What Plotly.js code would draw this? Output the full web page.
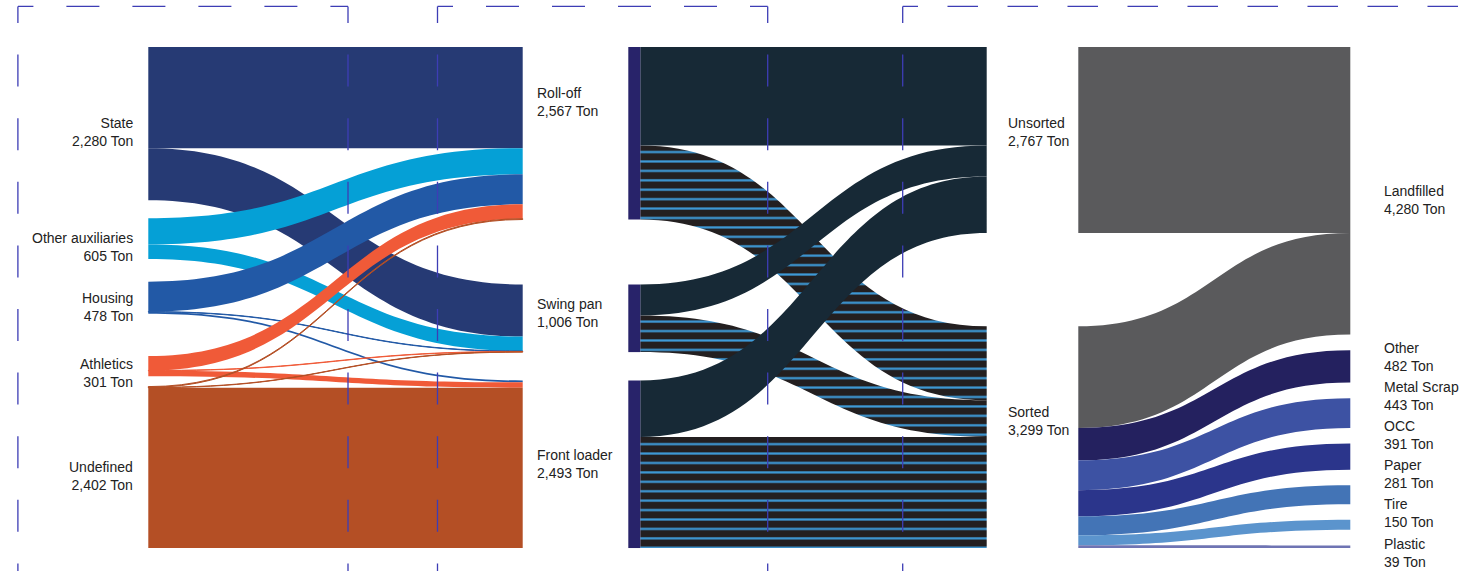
<!DOCTYPE html>
<html>
<head>
<meta charset="utf-8">
<script src="https://cdn.plot.ly/plotly-3.0.1.min.js"></script>
<style>
  html, body { margin: 0; padding: 0; background: #ffffff; }
  #chart { width: 1483px; height: 571px; }
</style>
</head>
<body>
<div id="chart"></div>
<script>
// ================= DATA =================
const sourceLabels = ['State', 'Other auxiliaries', 'Housing', 'Athletics', 'Undefined'];
const sourceTotals = [2280, 605, 478, 301, 2402];

const containerLabels = ['Roll-off', 'Swing pan', 'Front loader'];
const containerTotals = [2567, 1006, 2493];

const sortLabels = ['Unsorted', 'Sorted'];
const sortTotals = [2767, 3299];

const outcomeLabels = ['Landfilled', 'Other', 'Metal Scrap', 'OCC', 'Paper', 'Tire', 'Plastic'];
const outcomeTotals = [4280, 482, 443, 391, 281, 150, 39];

// Source -> container flows (Ton)
const flow1Source = [0, 0, 1, 1, 2, 2, 2, 3, 3, 3, 4, 4, 4];
const flow1Target = [0, 1, 0, 1, 0, 1, 2, 0, 1, 2, 0, 1, 2];
const flow1Value  = [1505, 775, 390, 215, 445, 6, 27, 215, 5, 81, 12, 5, 2385];

// Container -> sorting flows (Ton); target 0 = Unsorted, 1 = Sorted
const flow2Source = [0, 1, 2, 0, 1, 2];
const flow2Target = [1, 1, 1, 0, 0, 0];
const flow2Value  = [1100, 546, 1653, 1467, 460, 840];

// Sorting -> outcome flows (Ton)
const flow3Source = [0, 1, 1, 1, 1, 1, 1, 1];
const flow3Target = [0, 0, 1, 2, 3, 4, 5, 6];
const flow3Value  = [2767, 1513, 482, 443, 391, 281, 150, 39];

// ================= STYLE / LAYOUT =================
const W = 1483, H = 571;
const plotTop = 47, plotBottom = 548;
const plotH = plotBottom - plotTop;
const ky = 0.0672;               // px per ton
const nodeThick = 12;
const domainsPx = [[136.3, 534.7], [628.3, 998.7], [1066.3, 1362.3]];

const sourceColors = ['#263a74', '#05a0d6', '#2259a6', '#f05a38', '#b44f25'];
const unsortedColor = '#172936';
const stripePlaceholder = 'rgb(35, 31, 33)';
const stripeDark = '#231f20', stripeBlue = '#3e9bd9';
const stripePeriod = 9.422, stripeY = 0.3, stripeH = 2.2;
const sortNodeColor = '#28236a';
const outcomeColors = ['#5a5a5c', '#24215f', '#3d52a3', '#2b358b', '#4374b6', '#5b94cd', '#6f74b3'];
const clear = 'rgba(0,0,0,0)';

// node tops in px (left / middle columns)
const srcTops = [47, 218.3, 281.7, 356, 386.6];
const contTops = [47, 284.5, 380.5];
const sortTops = [47, 326.3];

// label centres in px
const srcLabelY = [132, 247.4, 306.5, 373.5, 476.3];
const contLabelY = [102, 312.5, 464.2];
const sortLabelY = [131.8, 421];
const outLabelY = [199.5, 356.5, 395.5, 435.3, 474.3, 512.8, 553];
const labelX = { src: 135, cont: 535, sort: 1006, out: 1382 };

const grand = sourceTotals.reduce((a, b) => a + b, 0);
const padFor = cols => (plotH - ky * grand) / (cols - 1);

function centersFromTops(tops, totals) {
  return tops.map((t, i) => (t - plotTop + totals[i] * ky / 2) / plotH);
}
function packedCenters(totals, pad) {
  let y = 0; const out = [];
  totals.forEach(v => { const h = v * ky; out.push((y + h / 2) / plotH); y += h + pad; });
  return out;
}
const domX = d => [d[0] / W, d[1] / W];
const domY = [1 - plotBottom / H, 1 - plotTop / H];
const leftX = d => (nodeThick / 2) / (d[1] - d[0]);
const rightX = d => 1 - (nodeThick / 2) / (d[1] - d[0]);

// ---- trace 1 ----
const d1 = domainsPx[0];
const trace1 = {
  type: 'sankey', arrangement: 'fixed', hoverinfo: 'none',
  domain: { x: domX(d1), y: domY },
  node: {
    pad: padFor(5), thickness: nodeThick, line: { width: 0 },
    color: sourceLabels.map(() => clear).concat(containerLabels.map(() => clear)),
    x: sourceLabels.map(() => leftX(d1)).concat(containerLabels.map(() => rightX(d1))),
    y: centersFromTops(srcTops, sourceTotals).concat(centersFromTops(contTops, containerTotals))
  },
  link: {
    source: flow1Source,
    target: flow1Target.map(t => t + sourceLabels.length),
    value: flow1Value,
    color: flow1Source.map(s => sourceColors[s]),
    line: { width: 0 }
  }
};

// ---- trace 2 ----
const d2 = domainsPx[1];
const trace2 = {
  type: 'sankey', arrangement: 'fixed', hoverinfo: 'none',
  domain: { x: domX(d2), y: domY },
  node: {
    pad: padFor(3), thickness: nodeThick, line: { width: 0 },
    color: containerLabels.map(() => sortNodeColor).concat(sortLabels.map(() => clear)),
    x: containerLabels.map(() => leftX(d2)).concat(sortLabels.map(() => rightX(d2))),
    y: centersFromTops(contTops, containerTotals).concat(centersFromTops(sortTops, sortTotals))
  },
  link: {
    source: flow2Source,
    target: flow2Target.map(t => t + containerLabels.length),
    value: flow2Value,
    color: flow2Target.map(t => t === 0 ? unsortedColor : stripePlaceholder),
    line: { width: 0 }
  }
};

// ---- trace 3 ----
const d3 = domainsPx[2];
const trace3 = {
  type: 'sankey', arrangement: 'fixed', hoverinfo: 'none',
  domain: { x: domX(d3), y: domY },
  node: {
    pad: padFor(7), thickness: nodeThick, line: { width: 0 },
    color: sortLabels.map(() => clear).concat(outcomeLabels.map(() => clear)),
    x: sortLabels.map(() => leftX(d3)).concat(outcomeLabels.map(() => rightX(d3))),
    y: centersFromTops(sortTops, sortTotals).concat(packedCenters(outcomeTotals, padFor(7)))
  },
  link: {
    source: flow3Source,
    target: flow3Target.map(t => t + sortLabels.length),
    value: flow3Value,
    color: flow3Target.map(t => outcomeColors[t]),
    line: { width: 0 }
  }
};

// ---- labels ----
const fmt = v => v.toLocaleString('en-US') + ' Ton';
function labelAnn(names, totals, ys, xpx, side) {
  return names.map((n, i) => ({
    xref: 'paper', yref: 'paper', x: xpx / W, y: 1 - ys[i] / H,
    xanchor: side, yanchor: 'middle', align: side, showarrow: false,
    text: n + '<br>' + fmt(totals[i]),
    font: { family: 'Liberation Sans, Arial, sans-serif', size: 14, color: '#222222' }
  }));
}
const annotations = []
  .concat(labelAnn(sourceLabels, sourceTotals, srcLabelY, labelX.src, 'right'))
  .concat(labelAnn(containerLabels, containerTotals, contLabelY, labelX.cont, 'left'))
  .concat(labelAnn(sortLabels, sortTotals, sortLabelY, labelX.sort, 'left'))
  .concat(labelAnn(outcomeLabels, outcomeTotals, outLabelY, labelX.out, 'left'));

// ---- dashed frames (decoration) ----
const frameColor = '#3d3db5';
function dashList(first, dash, gap, len) {
  const parts = [first, gap]; let s = first + gap;
  while (s < len + 100) { parts.push(dash, gap); s += dash + gap; }
  return parts.map(v => v.toFixed(1) + 'px').join(',');
}
function hLine(x0, x1, y, first, dash, gap) {
  return { type: 'line', xref: 'paper', yref: 'paper', layer: 'above',
    x0: x0 / W, x1: x1 / W, y0: 1 - y / H, y1: 1 - y / H,
    line: { color: frameColor, width: 1.3, dash: dashList(first, dash, gap, x1 - x0) } };
}
function vLine(x, y0, y1, first, dash, gap) {
  return { type: 'line', xref: 'paper', yref: 'paper', layer: 'above',
    x0: x / W, x1: x / W, y0: 1 - y0 / H, y1: 1 - y1 / H,
    line: { color: frameColor, width: 1.3, dash: dashList(first, dash, gap, y1 - y0) } };
}
const frameTop = 6.4, frameBottom = 640;
const frames = [
  { l: 17.9, r: 348, hf: 15.5, hd: 33, hg: 33, right: true },
  { l: 437.5, r: 767.7, hf: 15.5, hd: 33, hg: 33, right: true },
  { l: 902.7, r: 1502.7, hf: 15.3, hd: 30.5, hg: 29.5, right: false }
];
const shapes = [];
frames.forEach(f => {
  shapes.push(hLine(f.l, f.r, frameTop, f.hf, f.hd, f.hg));
  shapes.push(vLine(f.l, frameTop, frameBottom, 16.6, 32, 31.6));
  if (f.right) shapes.push(vLine(f.r, frameTop, frameBottom, 16.6, 32, 31.6));
});

const layout = {
  width: W, height: H,
  margin: { l: 0, r: 0, t: 0, b: 0, pad: 0 },
  paper_bgcolor: '#ffffff', plot_bgcolor: '#ffffff',
  font: { family: 'Liberation Sans, Arial, sans-serif', size: 14, color: '#222222' },
  showlegend: false,
  annotations: annotations,
  shapes: shapes
};

function applyStripes(gd) {
  const ns = 'http://www.w3.org/2000/svg';
  const svg = gd.querySelector('svg.main-svg');
  let defs = svg.querySelector('defs');
  if (!defs) { defs = document.createElementNS(ns, 'defs'); svg.insertBefore(defs, svg.firstChild); }
  const pat = document.createElementNS(ns, 'pattern');
  pat.setAttribute('id', 'sortedStripes');
  pat.setAttribute('patternUnits', 'userSpaceOnUse');
  pat.setAttribute('width', '40');
  pat.setAttribute('height', String(stripePeriod));
  const bg = document.createElementNS(ns, 'rect');
  bg.setAttribute('width', '40'); bg.setAttribute('height', String(stripePeriod));
  bg.setAttribute('fill', stripeDark);
  const st = document.createElementNS(ns, 'rect');
  st.setAttribute('y', String(stripeY)); st.setAttribute('width', '40');
  st.setAttribute('height', String(stripeH)); st.setAttribute('fill', stripeBlue);
  pat.appendChild(bg); pat.appendChild(st);
  defs.appendChild(pat);
  gd.querySelectorAll('path.sankey-link').forEach(p => {
    if (getComputedStyle(p).fill === stripePlaceholder) {
      p.style.fill = 'url(#sortedStripes)';
      p.style.fillOpacity = '1';
    }
  });
}

Plotly.newPlot('chart', [trace1, trace2, trace3], layout, { staticPlot: true, displayModeBar: false })
  .then(applyStripes);
</script>
</body>
</html>
